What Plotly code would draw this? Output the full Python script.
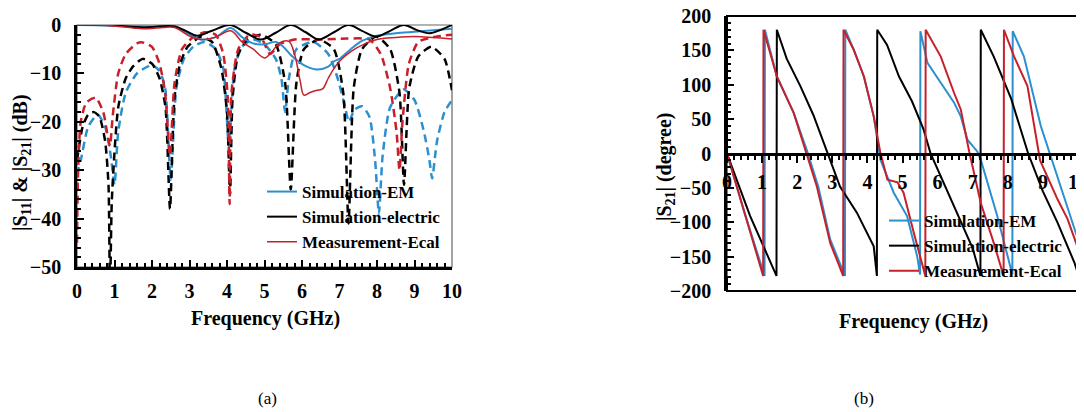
import plotly.graph_objects as go

BLUE = "#2b8fd0"
BLACK = "#000000"
RED = "#c8202a"
SERIF = "Liberation Serif"

# ---- (a) magnitude, dB ----
f_s11_em = [0, 0.1, 0.3, 0.55, 0.75, 0.9, 1.0, 1.1, 1.3, 1.6, 2.0, 2.2, 2.35, 2.5, 2.65, 2.85, 3.1, 3.4, 3.7,
            3.9, 4.05, 4.2, 4.4, 4.7, 5.0, 5.3, 5.45, 5.55, 5.65, 5.85, 6.3, 6.7, 6.95, 7.15, 7.25, 7.4, 7.6,
            7.8, 7.95, 8.05, 8.15, 8.35, 8.7, 9.0, 9.25, 9.4, 9.47, 9.6, 9.8, 10]
s11_em = [-31, -28, -21, -18.5, -21, -27, -33, -22, -14, -10, -8.3, -9.5, -13, -32, -13, -7, -4.5, -3.5, -5,
          -9, -25, -9, -4.5, -3, -4, -7, -11, -18, -11, -5, -3.5, -6, -11, -17, -20, -17.5, -16.8,
          -19, -28, -39, -27, -17, -13.3, -15.5, -22, -28, -31.7, -24, -18, -15.5]

f_s11_el = [0, 0.15, 0.3, 0.45, 0.6, 0.75, 0.84, 0.88, 0.93, 1.1, 1.3, 1.5, 1.75, 2.0, 2.2, 2.36, 2.48, 2.6,
            2.75, 2.95, 3.3, 3.6, 3.85, 4.0, 4.08, 4.15, 4.3, 4.55, 4.9, 5.3, 5.55, 5.7, 5.85, 6.05, 6.45,
            6.85, 7.1, 7.24, 7.38, 7.6, 7.98, 8.35, 8.6, 8.72, 8.86, 9.1, 9.45, 9.8, 10]
s11_el = [-28, -21, -18.5, -18, -19, -24, -33, -56, -36, -17, -11, -8.5, -7, -8, -11, -17, -38, -15,
          -8, -4.5, -2.5, -3.5, -9, -18, -35, -15, -6, -3, -2, -4, -12, -34, -12, -5, -3,
          -5, -14, -41, -13, -5, -2.4, -5, -14, -33, -13, -6.5, -4.5, -7, -13.5]

f_s11_ms = [0, 0.03, 0.1, 0.25, 0.5, 0.7, 0.82, 0.88, 0.95, 1.1, 1.3, 1.6, 1.75, 2.0, 2.2, 2.35, 2.48, 2.6,
            2.8, 3.1, 3.4, 3.7, 3.9, 4.02, 4.07, 4.12, 4.3, 4.6, 4.9, 5.15, 5.4, 5.8, 6.5, 7.2, 7.8, 8.1,
            8.35, 8.52, 8.6, 8.68, 8.85, 9.1, 9.5, 10]
s11_ms = [-45, -30, -20, -16, -15, -18, -23, -25, -19, -10, -6, -3.8, -3.6, -4.5, -8, -14, -27, -12,
          -5, -2.5, -1.5, -2, -6, -15, -37, -14, -5, -2, -2.5, -6, -4, -3, -3, -2.8, -3, -6,
          -13, -22, -30, -20, -8, -3.5, -2.5, -2]

f_s21_em = [0, 1.0, 2.0, 2.6, 3.0, 3.3, 3.7, 4.1, 4.4, 4.7, 5.0, 5.3, 5.5, 5.7, 5.9, 6.1, 6.4, 6.7, 6.85,
            7.0, 7.3, 7.6, 8.0, 8.5, 9.0, 9.5, 10]
s21_em = [0, -0.1, -0.3, -0.2, -2, -3, -2.5, -0.6, -2.5, -3.8, -4.0, -3.5, -4.5, -6.2, -7.5, -8.5, -9.2,
          -8.6, -7.5, -7.0, -5, -3.3, -2.2, -1.7, -1.4, -1.1, -0.8]

f_s21_el = [0, 0.5, 1.0, 1.5, 1.8, 2.2, 2.6, 2.9, 3.2, 3.6, 4.08, 4.5, 4.9, 5.3, 5.7, 6.1, 6.45, 6.85, 7.24,
            7.6, 7.98, 8.35, 8.72, 9.05, 9.4, 9.7, 10]
s21_el = [0, 0, -0.1, -0.4, -0.5, -0.3, -0.3, -1.2, -2.2, -1.2, 0, -1.6, -3.0, -1.6, 0, -1.5, -3.0, -1.5, 0,
          -1.2, -2.4, -1.2, 0, -1, -1.7, -1, 0]

f_s21_ms = [0, 0.5, 1.0, 1.5, 1.9, 2.3, 2.6, 3.0, 3.3, 3.7, 4.1, 4.4, 4.7, 5.0, 5.2, 5.4, 5.65, 5.8, 5.95,
            6.05, 6.2, 6.4, 6.55, 6.7, 6.85, 7.0, 7.3, 7.7, 8.0, 8.5, 9.0, 9.5, 10]
s21_ms = [0, 0, -0.2, -0.6, -0.8, -0.5, -0.5, -2.3, -3, -2.5, -1.2, -3.5, -5, -6.8, -5.5, -3.7, -3.4, -6,
          -11.5, -14.5, -14, -13.5, -13.2, -11, -9, -7.5, -5.5, -3.8, -3, -2.6, -2.4, -2.6, -2.9]

# ---- (b) phase, degree ----
f_ph_em = [0, 0, 0.5, 1.07, 1.08, 1.42, 1.9, 2.28, 2.6, 2.94, 3.36, 3.37, 3.61, 3.9, 4.18, 4.37, 4.75,
           5.13, 5.42, 5.5, 5.51, 5.71, 6.09, 6.47, 6.66, 6.85, 7.13, 7.23, 7.7, 8.13, 8.14, 8.46,
           8.94, 9.22, 9.7, 10]
ph_em = [-178, 0, -86, -178, 180, 112, 59, 4, -48, -125, -178, 180, 151, 112, 54, -9, -57,
         -91, -150, -176, 178, 132, 103, 74, 54, 20, 3, -9, -91, -176, 178, 141,
         40, -4, -77, -125]

f_ph_el = [0, 0.66, 1.41, 1.42, 1.7, 2.09, 2.46, 2.85, 3.22, 3.7, 4.18, 4.27, 4.28, 4.56, 4.9, 5.27,
           5.6, 5.8, 6.0, 6.3, 6.6, 7.0, 7.22, 7.23, 7.6, 8.1, 8.58, 9.0, 9.42, 9.9, 10, 10]
ph_el = [0, -91, -178, 180, 138, 98, 56, 1, -48, -86, -135, -178, 180, 158, 112, 76,
         35, 0, -23, -55, -92, -138, -178, 180, 141, 79, 0, -55, -101, -159, -175, 180]

f_ph_ms = [0, 0.5, 1.03, 1.04, 1.42, 1.9, 2.25, 2.56, 2.94, 3.31, 3.32, 3.61, 3.9, 4.18, 4.37, 4.57,
           4.86, 5.03, 5.32, 5.65, 5.66, 6.09, 6.47, 6.66, 6.9, 7.23, 7.6, 7.88, 7.89, 8.18, 8.56,
           8.92, 9.42, 9.7, 10]
ph_ms = [0, -88, -178, 180, 112, 59, 3, -48, -130, -178, 180, 151, 112, 54, 1, -38,
         -42, -57, -115, -178, 180, 141, 88, 64, 3, -72, -130, -178, 180, 141, 98,
         -10, -67, -95, -138]

fig = go.Figure()

dash = "8px,5px"
for fx, vals, col in [(f_s11_em, s11_em, BLUE), (f_s11_el, s11_el, BLACK), (f_s11_ms, s11_ms, RED)]:
    fig.add_trace(go.Scatter(x=fx, y=vals, mode="lines", line=dict(color=col, width=2.5, dash=dash),
                             line_shape="spline", line_smoothing=0.6, showlegend=False, xaxis="x", yaxis="y"))

fig.add_trace(go.Scatter(x=f_s21_em, y=s21_em, mode="lines", name="Simulation-EM",
                         line=dict(color=BLUE, width=2), line_shape="spline", xaxis="x", yaxis="y", legend="legend"))
fig.add_trace(go.Scatter(x=f_s21_el, y=s21_el, mode="lines", name="Simulation-electric",
                         line=dict(color=BLACK, width=2), line_shape="spline", xaxis="x", yaxis="y", legend="legend"))
fig.add_trace(go.Scatter(x=f_s21_ms, y=s21_ms, mode="lines", name="Measurement-Ecal",
                         line=dict(color=RED, width=1.5), line_shape="spline", xaxis="x", yaxis="y", legend="legend"))

fig.add_trace(go.Scatter(x=f_ph_em, y=ph_em, mode="lines", name="Simulation-EM",
                         line=dict(color=BLUE, width=2), xaxis="x2", yaxis="y2", legend="legend2"))
fig.add_trace(go.Scatter(x=f_ph_el, y=ph_el, mode="lines", name="Simulation-electric",
                         line=dict(color=BLACK, width=2), xaxis="x2", yaxis="y2", legend="legend2"))
fig.add_trace(go.Scatter(x=f_ph_ms, y=ph_ms, mode="lines", name="Measurement-Ecal",
                         line=dict(color=RED, width=2), xaxis="x2", yaxis="y2", legend="legend2"))

# the page body has an 8px margin, so the figure is drawn 8px in from the window corner
OFF = 8
W, H = 1084 - OFF, 412 - OFF


def px(x):
    return (x - OFF) / W


def py(y):
    return 1 - (y - OFF) / H


tickfont = dict(family=SERIF, size=20, color="black", weight="bold")
common = dict(showgrid=False, zeroline=False, showline=True, linecolor="black", linewidth=2.5,
              ticks="inside", ticklen=7, tickwidth=2, tickcolor="black", tickfont=tickfont,
              automargin=False, ticklabeloverflow="allow")
xminor = dict(dtick=0.2, ticks="inside", ticklen=4, tickcolor="black", tickwidth=1.5)

fig.update_layout(
    width=W, height=H, margin=dict(l=0, r=0, t=0, b=0, autoexpand=False),
    paper_bgcolor="white", plot_bgcolor="white",
    xaxis=dict(domain=[px(77), px(452)], range=[0, 10], dtick=1, anchor="y", ticklabelstandoff=4,
               minor=xminor, **common),
    yaxis=dict(domain=[py(267), py(25)], range=[-50, 0], dtick=10, anchor="x", ticklabelstandoff=9,
               minor=dict(dtick=2, ticks="inside", ticklen=4, tickcolor="black", tickwidth=1.5), **common),
    xaxis2=dict(domain=[px(727), px(1078)], range=[0, 10], dtick=1, anchor="free", position=py(154),
                ticklabelstandoff=2, minor={**xminor, "ticks": "outside"},
                **{**common, "ticks": "outside"}),
    yaxis2=dict(domain=[py(291), py(16)], range=[-200, 200], dtick=50, anchor="x2", ticklabelstandoff=9,
                minor=dict(dtick=10, ticks="inside", ticklen=4, tickcolor="black", tickwidth=1.5), **common),
    legend=dict(x=px(262), y=py(174), xanchor="left", yanchor="top", bgcolor="rgba(0,0,0,0)",
                font=dict(family=SERIF, size=17, color="black", weight="bold"), itemwidth=30,
                tracegroupgap=0),
    legend2=dict(x=px(884), y=py(203), xanchor="left", yanchor="top", bgcolor="rgba(0,0,0,0)",
                 font=dict(family=SERIF, size=17, color="black", weight="bold"), itemwidth=30,
                 tracegroupgap=0),
    shapes=[
        dict(type="rect", xref="x domain", yref="y domain", x0=0, x1=1, y0=0, y1=1,
             line=dict(color="#666666", width=1.2), layer="below"),
        dict(type="rect", xref="x2 domain", yref="y2 domain", x0=0, x1=1, y0=0, y1=1,
             line=dict(color="black", width=2), layer="below"),
    ],
)

title_font = dict(family=SERIF, size=20, color="black", weight="bold")
annos = [
    dict(text="|S<sub>11</sub>| & |S<sub>21</sub>| (dB)", x=px(21), y=py(163), textangle=-90, font=title_font),
    dict(text="Frequency (GHz)", x=px(265), y=py(318), font=title_font),
    dict(text="|S<sub>21</sub>| (degree)", x=px(665), y=py(167), textangle=-90, font=title_font),
    dict(text="Frequency (GHz)", x=px(913), y=py(321), font=title_font),
    dict(text="(a)", x=px(267), y=py(398), font=dict(family=SERIF, size=17, color="black")),
    dict(text="(b)", x=px(864), y=py(398), font=dict(family=SERIF, size=17, color="black")),
]
for a in annos:
    fig.add_annotation(xref="paper", yref="paper", showarrow=False, xanchor="center", yanchor="middle", **a)

fig.write_html("out.html")
